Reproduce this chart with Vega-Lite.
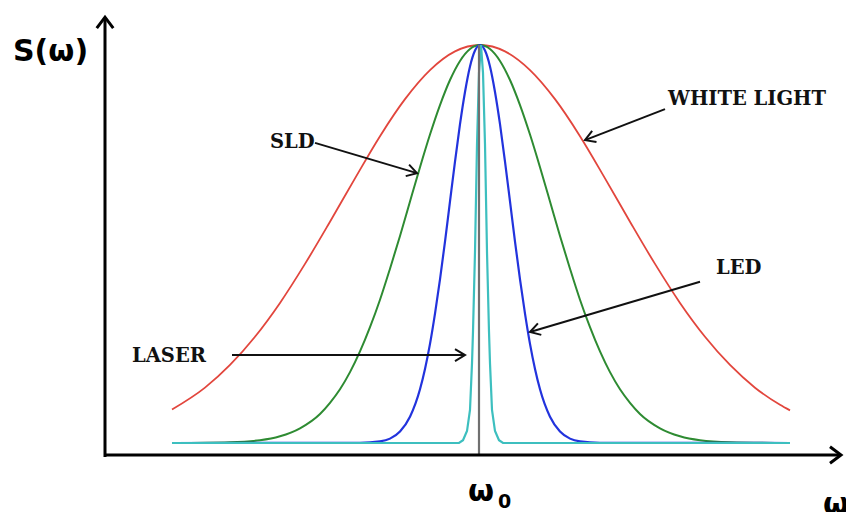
{
  "$schema": "https://vega.github.io/schema/vega-lite/v6.json",
  "width": 846,
  "height": 512,
  "autosize": {"type": "none"},
  "padding": 0,
  "background": "white",
  "config": {"view": {"stroke": null}},
  "datasets": {
    "curves": [
      {"series": "White light", "w": -3.08, "s": 0.084},
      {"series": "White light", "w": -2.75, "s": 0.139},
      {"series": "White light", "w": -2.5, "s": 0.196},
      {"series": "White light", "w": -2.25, "s": 0.267},
      {"series": "White light", "w": -2.0, "s": 0.352},
      {"series": "White light", "w": -1.75, "s": 0.45},
      {"series": "White light", "w": -1.5, "s": 0.556},
      {"series": "White light", "w": -1.25, "s": 0.665},
      {"series": "White light", "w": -1.0, "s": 0.771},
      {"series": "White light", "w": -0.75, "s": 0.864},
      {"series": "White light", "w": -0.5, "s": 0.937},
      {"series": "White light", "w": -0.25, "s": 0.984},
      {"series": "White light", "w": 0.0, "s": 1.0},
      {"series": "White light", "w": 0.25, "s": 0.984},
      {"series": "White light", "w": 0.5, "s": 0.937},
      {"series": "White light", "w": 0.75, "s": 0.864},
      {"series": "White light", "w": 1.0, "s": 0.771},
      {"series": "White light", "w": 1.25, "s": 0.665},
      {"series": "White light", "w": 1.5, "s": 0.556},
      {"series": "White light", "w": 1.75, "s": 0.45},
      {"series": "White light", "w": 2.0, "s": 0.352},
      {"series": "White light", "w": 2.25, "s": 0.267},
      {"series": "White light", "w": 2.5, "s": 0.196},
      {"series": "White light", "w": 2.75, "s": 0.139},
      {"series": "White light", "w": 3.0, "s": 0.096},
      {"series": "White light", "w": 3.1, "s": 0.082},

      {"series": "SLD", "w": -3.08, "s": 0.0},
      {"series": "SLD", "w": -2.5, "s": 0.002},
      {"series": "SLD", "w": -2.2, "s": 0.007},
      {"series": "SLD", "w": -2.0, "s": 0.017},
      {"series": "SLD", "w": -1.8, "s": 0.037},
      {"series": "SLD", "w": -1.6, "s": 0.073},
      {"series": "SLD", "w": -1.5, "s": 0.101},
      {"series": "SLD", "w": -1.4, "s": 0.135},
      {"series": "SLD", "w": -1.3, "s": 0.178},
      {"series": "SLD", "w": -1.2, "s": 0.23},
      {"series": "SLD", "w": -1.1, "s": 0.291},
      {"series": "SLD", "w": -1.0, "s": 0.36},
      {"series": "SLD", "w": -0.9, "s": 0.438},
      {"series": "SLD", "w": -0.8, "s": 0.52},
      {"series": "SLD", "w": -0.7, "s": 0.607},
      {"series": "SLD", "w": -0.6, "s": 0.693},
      {"series": "SLD", "w": -0.5, "s": 0.775},
      {"series": "SLD", "w": -0.4, "s": 0.849},
      {"series": "SLD", "w": -0.3, "s": 0.912},
      {"series": "SLD", "w": -0.2, "s": 0.96},
      {"series": "SLD", "w": -0.1, "s": 0.99},
      {"series": "SLD", "w": 0.0, "s": 1.0},
      {"series": "SLD", "w": 0.1, "s": 0.99},
      {"series": "SLD", "w": 0.2, "s": 0.96},
      {"series": "SLD", "w": 0.3, "s": 0.912},
      {"series": "SLD", "w": 0.4, "s": 0.849},
      {"series": "SLD", "w": 0.5, "s": 0.775},
      {"series": "SLD", "w": 0.6, "s": 0.693},
      {"series": "SLD", "w": 0.7, "s": 0.607},
      {"series": "SLD", "w": 0.8, "s": 0.52},
      {"series": "SLD", "w": 0.9, "s": 0.438},
      {"series": "SLD", "w": 1.0, "s": 0.36},
      {"series": "SLD", "w": 1.1, "s": 0.291},
      {"series": "SLD", "w": 1.2, "s": 0.23},
      {"series": "SLD", "w": 1.3, "s": 0.178},
      {"series": "SLD", "w": 1.4, "s": 0.135},
      {"series": "SLD", "w": 1.5, "s": 0.101},
      {"series": "SLD", "w": 1.6, "s": 0.073},
      {"series": "SLD", "w": 1.8, "s": 0.037},
      {"series": "SLD", "w": 2.0, "s": 0.017},
      {"series": "SLD", "w": 2.2, "s": 0.007},
      {"series": "SLD", "w": 2.5, "s": 0.002},
      {"series": "SLD", "w": 3.1, "s": 0.0},

      {"series": "LED", "w": -3.08, "s": 0.0},
      {"series": "LED", "w": -1.2, "s": 0.0005},
      {"series": "LED", "w": -1.0, "s": 0.004},
      {"series": "LED", "w": -0.9, "s": 0.011},
      {"series": "LED", "w": -0.8, "s": 0.029},
      {"series": "LED", "w": -0.7, "s": 0.066},
      {"series": "LED", "w": -0.6, "s": 0.135},
      {"series": "LED", "w": -0.55, "s": 0.186},
      {"series": "LED", "w": -0.5, "s": 0.249},
      {"series": "LED", "w": -0.45, "s": 0.325},
      {"series": "LED", "w": -0.4, "s": 0.411},
      {"series": "LED", "w": -0.35, "s": 0.506},
      {"series": "LED", "w": -0.3, "s": 0.607},
      {"series": "LED", "w": -0.25, "s": 0.707},
      {"series": "LED", "w": -0.2, "s": 0.801},
      {"series": "LED", "w": -0.15, "s": 0.882},
      {"series": "LED", "w": -0.1, "s": 0.946},
      {"series": "LED", "w": -0.05, "s": 0.986},
      {"series": "LED", "w": 0.0, "s": 1.0},
      {"series": "LED", "w": 0.05, "s": 0.986},
      {"series": "LED", "w": 0.1, "s": 0.946},
      {"series": "LED", "w": 0.15, "s": 0.882},
      {"series": "LED", "w": 0.2, "s": 0.801},
      {"series": "LED", "w": 0.25, "s": 0.707},
      {"series": "LED", "w": 0.3, "s": 0.607},
      {"series": "LED", "w": 0.35, "s": 0.506},
      {"series": "LED", "w": 0.4, "s": 0.411},
      {"series": "LED", "w": 0.45, "s": 0.325},
      {"series": "LED", "w": 0.5, "s": 0.249},
      {"series": "LED", "w": 0.55, "s": 0.186},
      {"series": "LED", "w": 0.6, "s": 0.135},
      {"series": "LED", "w": 0.7, "s": 0.066},
      {"series": "LED", "w": 0.8, "s": 0.029},
      {"series": "LED", "w": 0.9, "s": 0.011},
      {"series": "LED", "w": 1.0, "s": 0.004},
      {"series": "LED", "w": 1.2, "s": 0.0005},
      {"series": "LED", "w": 3.1, "s": 0.0},

      {"series": "Laser", "w": -3.08, "s": 0.0},
      {"series": "Laser", "w": -0.21, "s": 0.0},
      {"series": "Laser", "w": -0.17, "s": 0.007},
      {"series": "Laser", "w": -0.13, "s": 0.03},
      {"series": "Laser", "w": -0.10, "s": 0.083},
      {"series": "Laser", "w": -0.08, "s": 0.2},
      {"series": "Laser", "w": -0.07, "s": 0.28},
      {"series": "Laser", "w": -0.05, "s": 0.48},
      {"series": "Laser", "w": -0.03, "s": 0.75},
      {"series": "Laser", "w": -0.01, "s": 0.93},
      {"series": "Laser", "w": 0.01, "s": 1.0},
      {"series": "Laser", "w": 0.03, "s": 0.93},
      {"series": "Laser", "w": 0.05, "s": 0.75},
      {"series": "Laser", "w": 0.07, "s": 0.48},
      {"series": "Laser", "w": 0.09, "s": 0.28},
      {"series": "Laser", "w": 0.10, "s": 0.2},
      {"series": "Laser", "w": 0.12, "s": 0.083},
      {"series": "Laser", "w": 0.15, "s": 0.03},
      {"series": "Laser", "w": 0.19, "s": 0.007},
      {"series": "Laser", "w": 0.23, "s": 0.0},
      {"series": "Laser", "w": 3.1, "s": 0.0}
    ],
    "frame": [
      {"part": "y axis", "w1": -3.75, "s1": -0.035, "w2": -3.75, "s2": 1.065},
      {"part": "x axis", "w1": -3.75, "s1": -0.03, "w2": 3.59, "s2": -0.03},
      {"part": "omega0", "w1": -0.01, "s1": -0.03, "w2": -0.01, "s2": 1.0}
    ],
    "axisheads": [
      {"part": "y axis", "w": -3.75, "s": 1.07, "angle": -90},
      {"part": "x axis", "w": 3.61, "s": -0.03, "angle": 0}
    ],
    "arrows": [
      {"label": "WHITE LIGHT", "w1": 1.85, "s1": 0.839, "w2": 1.05, "s2": 0.761, "angle": 158.8},
      {"label": "SLD", "w1": -1.65, "s1": 0.754, "w2": -0.63, "s2": 0.678, "angle": 16.4},
      {"label": "LED", "w1": 2.2, "s1": 0.405, "w2": 0.5, "s2": 0.279, "angle": 163.6},
      {"label": "LASER", "w1": -2.48, "s1": 0.221, "w2": -0.15, "s2": 0.221, "angle": 0}
    ],
    "labels": [
      {"label": "WHITE LIGHT", "w": 1.88, "s": 0.864},
      {"label": "SLD", "w": -2.1, "s": 0.756},
      {"label": "LED", "w": 2.36, "s": 0.44},
      {"label": "LASER", "w": -3.48, "s": 0.219}
    ],
    "axistitles": [
      {"label": "S(ω)", "w": -4.67, "s": 0.982},
      {"label": "ω", "w": -0.12, "s": -0.123},
      {"label": "ω", "w": 3.43, "s": -0.155}
    ],
    "subscript": [
      {"label": "0", "w": 0.18, "s": -0.148}
    ]
  },
  "encoding": {
    "x": {"field": "w", "type": "quantitative", "scale": {"domain": [-4.8, 3.66], "nice": false, "zero": false}, "axis": null},
    "y": {"field": "s", "type": "quantitative", "scale": {"domain": [-0.1734, 1.1131], "nice": false, "zero": false}, "axis": null}
  },
  "layer": [
    {
      "data": {"name": "curves"},
      "transform": [{"filter": "datum.series === 'White light'"}],
      "mark": {"type": "line", "color": "#e2463d", "strokeWidth": 1.8, "interpolate": "monotone"},
      "encoding": {}
    },
    {
      "data": {"name": "curves"},
      "transform": [{"filter": "datum.series === 'SLD'"}],
      "mark": {"type": "line", "color": "#2e8b32", "strokeWidth": 2, "interpolate": "monotone"},
      "encoding": {}
    },
    {
      "data": {"name": "curves"},
      "transform": [{"filter": "datum.series === 'LED'"}],
      "mark": {"type": "line", "color": "#2233dd", "strokeWidth": 2.2, "interpolate": "monotone"},
      "encoding": {}
    },
    {
      "data": {"name": "curves"},
      "transform": [{"filter": "datum.series === 'Laser'"}],
      "mark": {"type": "line", "color": "#3dbfbf", "strokeWidth": 2.2, "interpolate": "linear"},
      "encoding": {}
    },
    {
      "data": {"name": "frame"},
      "transform": [{"filter": "datum.part === 'omega0'"}],
      "mark": {"type": "rule", "color": "#707070", "strokeWidth": 2.2},
      "encoding": {
        "x": {"field": "w1", "type": "quantitative"},
        "y": {"field": "s1", "type": "quantitative"},
        "x2": {"field": "w2"},
        "y2": {"field": "s2"}
      }
    },
    {
      "data": {"name": "frame"},
      "transform": [{"filter": "datum.part !== 'omega0'"}],
      "mark": {"type": "rule", "color": "#000000", "strokeWidth": 3},
      "encoding": {
        "x": {"field": "w1", "type": "quantitative"},
        "y": {"field": "s1", "type": "quantitative"},
        "x2": {"field": "w2"},
        "y2": {"field": "s2"}
      }
    },
    {
      "data": {"name": "axisheads"},
      "mark": {"type": "point", "shape": "M-1,-0.75L0,0L-1,0.75", "filled": false, "stroke": "#000000", "strokeWidth": 3, "size": 484, "opacity": 1},
      "encoding": {
        "angle": {"field": "angle", "type": "quantitative", "scale": null}
      }
    },
    {
      "data": {"name": "arrows"},
      "mark": {"type": "rule", "color": "#111111", "strokeWidth": 2},
      "encoding": {
        "x": {"field": "w1", "type": "quantitative"},
        "y": {"field": "s1", "type": "quantitative"},
        "x2": {"field": "w2"},
        "y2": {"field": "s2"}
      }
    },
    {
      "data": {"name": "arrows"},
      "mark": {"type": "point", "shape": "M-1,-0.6L0,0L-1,0.6", "filled": false, "stroke": "#111111", "strokeWidth": 2, "size": 400, "opacity": 1},
      "encoding": {
        "x": {"field": "w2", "type": "quantitative"},
        "y": {"field": "s2", "type": "quantitative"},
        "angle": {"field": "angle", "type": "quantitative", "scale": null}
      }
    },
    {
      "data": {"name": "labels"},
      "mark": {"type": "text", "align": "left", "baseline": "middle", "font": "DejaVu Serif", "fontWeight": "bold", "fontSize": 19.5, "color": "#111111"},
      "encoding": {"text": {"field": "label"}}
    },
    {
      "data": {"name": "axistitles"},
      "mark": {"type": "text", "align": "left", "baseline": "middle", "font": "DejaVu Sans", "fontWeight": "bold", "fontSize": 30, "color": "#000000"},
      "encoding": {"text": {"field": "label"}}
    },
    {
      "data": {"name": "subscript"},
      "mark": {"type": "text", "align": "left", "baseline": "middle", "font": "DejaVu Sans", "fontWeight": "bold", "fontSize": 19, "color": "#000000"},
      "encoding": {"text": {"field": "label"}}
    }
  ]
}
